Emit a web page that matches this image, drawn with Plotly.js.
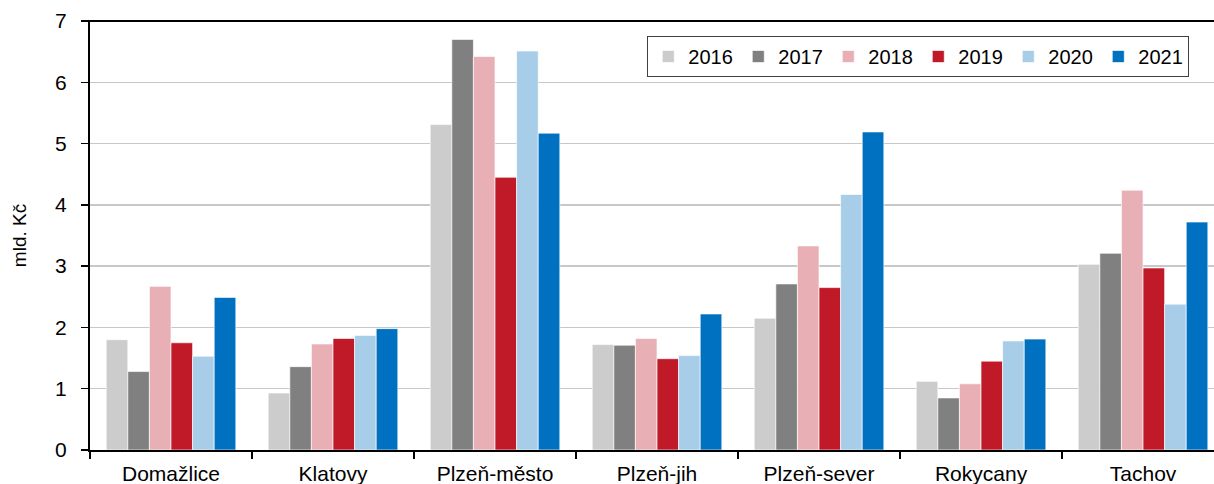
<!DOCTYPE html>
<html>
<head>
<meta charset="utf-8">
<script src="https://cdn.plot.ly/plotly-3.0.1.min.js"></script>
<style>html,body{margin:0;padding:0;background:#fff;}#chart{width:1214px;height:484px;}</style>
</head>
<body>
<div id="chart"></div>
<script>
const categories = ["Domažlice", "Klatovy", "Plzeň-město", "Plzeň-jih", "Plzeň-sever", "Rokycany", "Tachov"];
const years = ["2016", "2017", "2018", "2019", "2020", "2021"];
const v2016 = [1.80, 0.93, 5.31, 1.72, 2.15, 1.12, 3.03];
const v2017 = [1.28, 1.36, 6.70, 1.71, 2.71, 0.85, 3.21];
const v2018 = [2.67, 1.73, 6.42, 1.82, 3.33, 1.08, 4.24];
const v2019 = [1.75, 1.82, 4.45, 1.49, 2.65, 1.45, 2.97];
const v2020 = [1.53, 1.87, 6.51, 1.54, 4.17, 1.78, 2.38];
const v2021 = [2.49, 1.98, 5.17, 2.22, 5.19, 1.81, 3.72];
const yTicks = [0, 1, 2, 3, 4, 5, 6, 7];

const series = [v2016, v2017, v2018, v2019, v2020, v2021];
const colors = ["#cccccc", "#808080", "#e8b0b4", "#c01a28", "#a7cde9", "#0070c0"];

const traces = series.map((vals, i) => ({
  type: "bar",
  name: years[i],
  x: categories,
  y: vals,
  marker: {color: colors[i], line: {color: "rgba(255,255,255,0.8)", width: 0.8}},
  hoverinfo: "x+y+name"
}));

const layout = {
  width: 1214,
  height: 484,
  margin: {l: 90, r: 0, t: 21, b: 34},
  paper_bgcolor: "#ffffff",
  plot_bgcolor: "#ffffff",
  font: {family: "Liberation Sans, Arial, sans-serif", size: 21, color: "#000"},
  barmode: "group",
  bargap: 0.2,
  bargroupgap: 0,
  showlegend: true,
  legend: {
    orientation: "h",
    x: 0.978, xanchor: "right",
    y: 0.965, yanchor: "top",
    bordercolor: "#404040", borderwidth: 1,
    bgcolor: "#ffffff",
    font: {size: 20, color: "#000"},
    itemwidth: 30,
    entrywidth: 45,
    entrywidthmode: "pixels",
    traceorder: "normal"
  },
  xaxis: {
    type: "category",
    range: [-0.5, 6.438],
    showline: true, linecolor: "#000", linewidth: 2,
    ticks: "outside", ticklen: 7, tickwidth: 1.5, tickcolor: "#000",
    tickson: "boundaries",
    ticklabelstandoff: 4,
    showgrid: false,
    zeroline: false,
    tickfont: {size: 21},
    fixedrange: true
  },
  yaxis: {
    range: [0, 7],
    tickvals: yTicks,
    ticktext: yTicks.map(String),
    showline: true, linecolor: "#000", linewidth: 2,
    ticks: "outside", ticklen: 7, tickwidth: 1.5, tickcolor: "#000",
    ticklabelstandoff: 10,
    showgrid: true, gridcolor: "#c8c8c8", gridwidth: 1.5,
    zeroline: false,
    tickfont: {size: 21},
    title: {text: "mld. Kč", font: {size: 19}, standoff: 23},
    fixedrange: true
  },
  shapes: [{
    type: "line", xref: "paper", yref: "paper",
    x0: -0.006, x1: 1, y0: 1, y1: 1,
    line: {color: "#000", width: 2}
  }]
};

Plotly.newPlot("chart", traces, layout, {displayModeBar: false, staticPlot: true});
</script>
</body>
</html>
